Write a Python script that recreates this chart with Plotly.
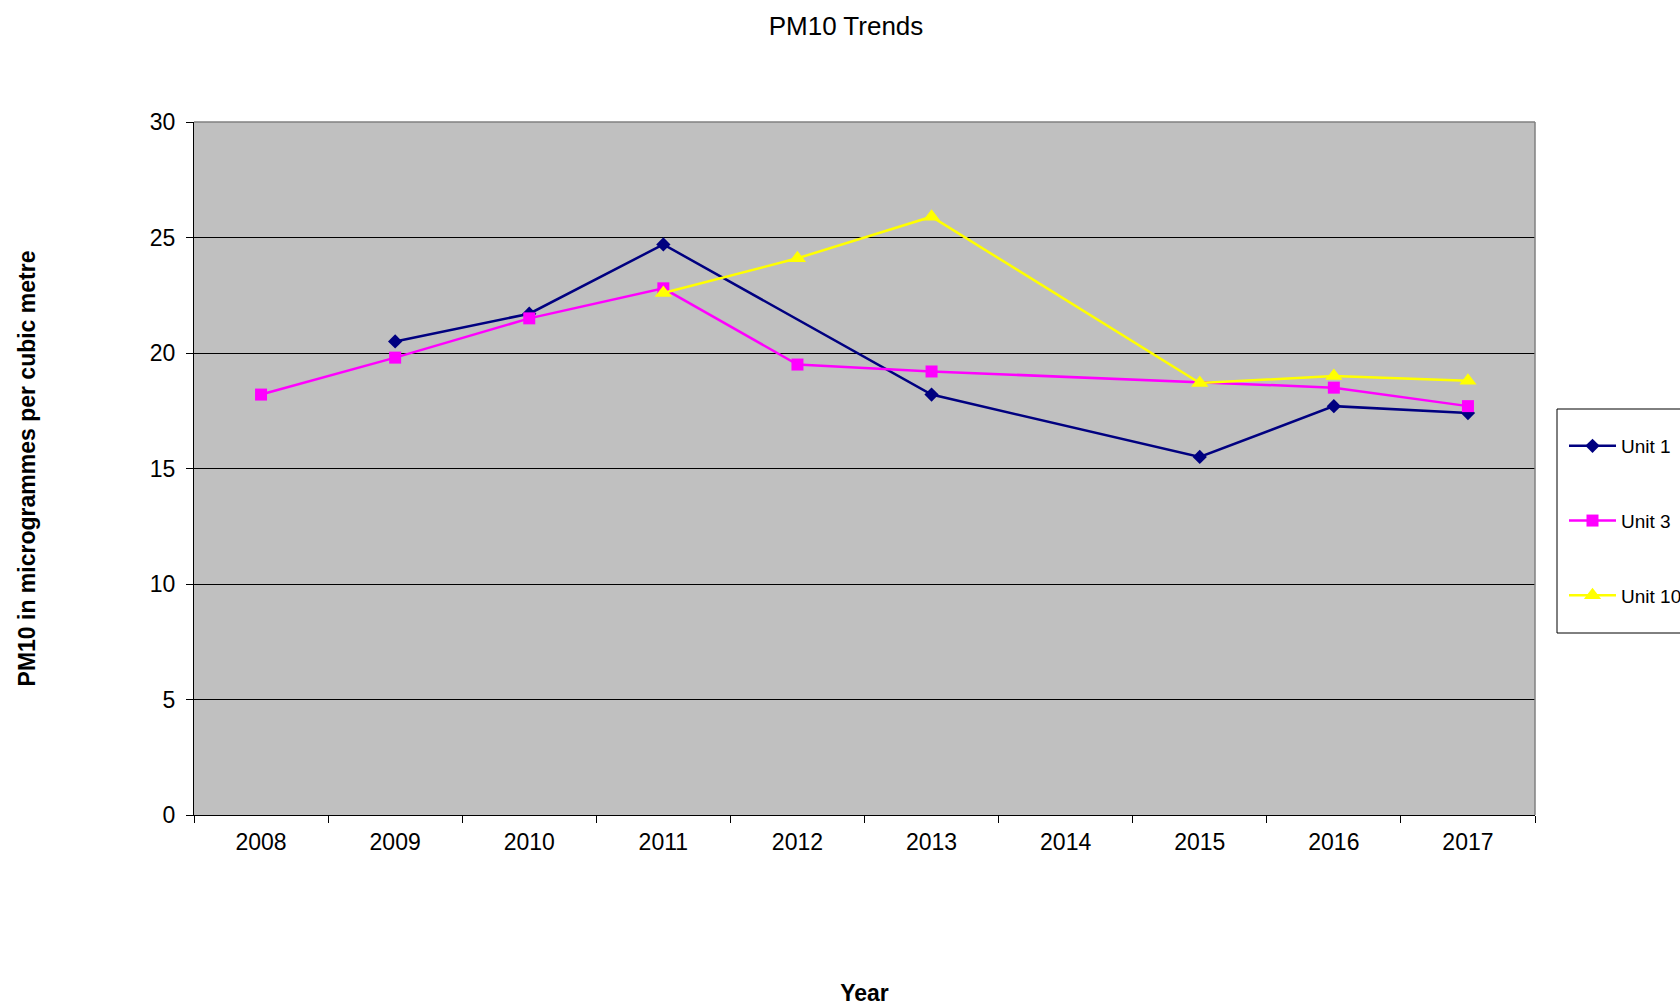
import plotly.graph_objects as go

years = ["2008", "2009", "2010", "2011", "2012", "2013", "2014", "2015", "2016", "2017"]
unit1 = [None, 20.5, 21.7, 24.7, None, 18.2, None, 15.5, 17.7, 17.4]
unit3 = [18.2, 19.8, 21.5, 22.8, 19.5, 19.2, None, None, 18.5, 17.7]
unit10 = [None, None, None, 22.6, 24.1, 25.9, None, 18.7, 19.0, 18.8]
y_ticks = [0, 5, 10, 15, 20, 25, 30]

FONT = "Arial, Liberation Sans, sans-serif"

fig = go.Figure()
series = [
    ("Unit 1", unit1, "#000080", "diamond", 11),
    ("Unit 3", unit3, "#FF00FF", "square", 12),
    ("Unit 10", unit10, "#FFFF00", "triangle-up", 15),
]
for i, (name, vals, col, sym, sz) in enumerate(series):
    fig.add_trace(go.Scatter(
        x=years, y=vals, name=name, mode="lines+markers", connectgaps=True,
        line=dict(color=col, width=2.5),
        marker=dict(symbol=sym, size=sz, color=col),
        legendgroup=f"g{i}",
    ))

L, R, T, B = 194, 145, 122, 191
W, H = 1680, 1006
pw = W - L - R
ph = H - T - B

fig.update_layout(
    width=W, height=H,
    margin=dict(l=L, r=R, t=T, b=B, autoexpand=False),
    paper_bgcolor="white",
    plot_bgcolor="#C0C0C0",
    font=dict(family=FONT, size=23, color="black"),
    title=dict(text="PM10 Trends", x=846 / W, xref="container", xanchor="center",
               y=1 - 26 / H, yref="container", yanchor="middle",
               font=dict(size=26, family=FONT, color="black")),
    xaxis=dict(
        type="category", categoryorder="array", categoryarray=years,
        range=[-0.5, 9.5], tickson="boundaries", ticks="outside", ticklen=7,
        tickcolor="black", showline=True, linecolor="black", linewidth=1,
        showgrid=False, tickfont=dict(size=23), ticklabelstandoff=6,
        title=dict(text="<b>Year</b>", standoff=132, font=dict(size=23)),
    ),
    yaxis=dict(
        range=[0, 30], tickvals=y_ticks, ticks="outside", ticklen=7,
        tickcolor="black", showline=True, linecolor="black", linewidth=1,
        showgrid=True, gridcolor="black", gridwidth=1, zeroline=False,
        tickfont=dict(size=23), ticklabelstandoff=6,
        title=dict(text="<b>PM10 in microgrammes per cubic metre</b>", standoff=107,
                   font=dict(size=23)),
    ),
    legend=dict(
        x=(1564 - L) / pw, xanchor="left", y=1 - (427 - T) / ph, yanchor="top",
        bgcolor="rgba(0,0,0,0)", borderwidth=0,
        font=dict(size=19, family=FONT, color="black"),
        tracegroupgap=47, itemwidth=47, traceorder="grouped",
    ),
    showlegend=True,
    shapes=[
        dict(type="line", xref="paper", yref="paper", x0=0, x1=1, y0=1, y1=1,
             line=dict(color="#808080", width=1.5), layer="above"),
        dict(type="line", xref="paper", yref="paper", x0=1, x1=1, y0=0, y1=1,
             line=dict(color="#808080", width=1.5), layer="above"),
        dict(type="rect", xref="paper", yref="paper",
             x0=(1557 - L) / pw, x1=(1700 - L) / pw,
             y0=1 - (633 - T) / ph, y1=1 - (409 - T) / ph,
             line=dict(color="black", width=1), fillcolor="white", layer="below"),
    ],
)

fig.write_html("out.html")
